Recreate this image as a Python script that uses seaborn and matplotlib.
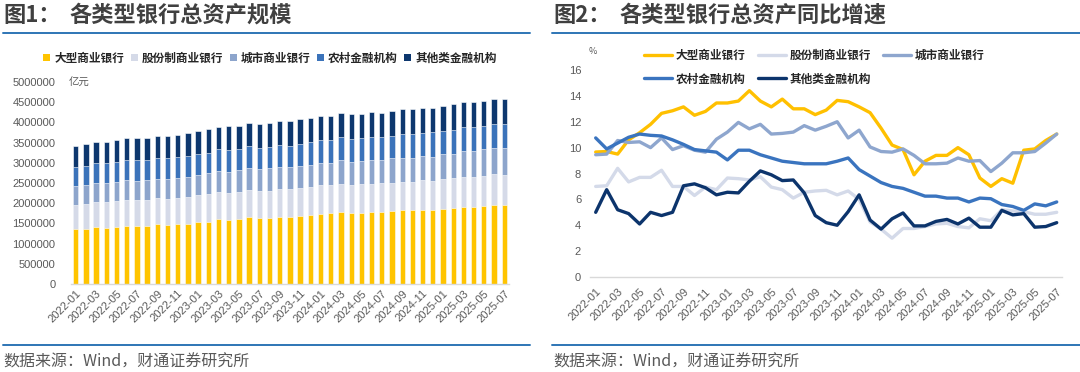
import numpy as np
import pandas as pd
import matplotlib
matplotlib.use("Agg")
import matplotlib.pyplot as plt
import seaborn as sns
from matplotlib.lines import Line2D
from matplotlib.patches import Patch

# ---------------- data ----------------
months = [f"{y}-{m:02d}" for y in (2022, 2023, 2024, 2025) for m in range(1, 13)][:43]

series_names = ["大型商业银行", "股份制商业银行", "城市商业银行", "农村金融机构", "其他类金融机构"]

# total assets (亿元)
assets_large = [1361400, 1369700, 1402700, 1377900, 1419200, 1443900, 1435700, 1443900, 1485200, 1460400,
                1485200, 1493400, 1534700, 1542900, 1608900, 1575900, 1608900, 1658500, 1625400, 1641900,
                1666700, 1658500, 1683200, 1699700, 1732700, 1749200, 1782200, 1749200, 1765700, 1782200,
                1782200, 1798700, 1831700, 1835000, 1840000, 1823500, 1856500, 1873000, 1914200, 1918000,
                1930700, 1963700, 1963700]
assets_joint = [594100, 610600, 627100, 651800, 627100, 643600, 635300, 643600, 643600, 643600,
                643600, 660100, 668300, 676600, 668300, 684800, 668300, 668300, 684800, 668300,
                684800, 684800, 693100, 709600, 709600, 693100, 701300, 701300, 701300, 701300,
                717800, 701300, 701300, 701300, 726100, 734300, 742600, 750800, 742600, 742600,
                742600, 759100, 742600]
assets_city = [470300, 462100, 470300, 470300, 478600, 495100, 486800, 486800, 478600, 495100,
               495100, 503300, 503300, 519800, 519800, 519800, 536300, 536300, 536300, 552800,
               544600, 552800, 552800, 544600, 561100, 561100, 585800, 569300, 577600, 585800,
               569300, 610600, 594100, 594100, 594100, 594100, 610600, 602300, 635300, 635300,
               660100, 643600, 660100]
assets_rural = [470300, 486800, 486800, 486800, 495100, 486800, 511600, 495100, 511600, 528100,
                511600, 511600, 519800, 511600, 536300, 536300, 536300, 552800, 528100, 536300,
                544600, 528100, 544600, 552800, 569300, 569300, 561100, 577600, 569300, 577600,
                561100, 561100, 585800, 585800, 585800, 602300, 585800, 594100, 585800, 585800,
                577600, 594100, 594100]
assets_other = [528100, 528100, 519800, 519800, 536300, 536300, 536300, 552800, 544600, 536300,
                561100, 561100, 561100, 577600, 561100, 585800, 561100, 577600, 585800, 577600,
                585800, 610600, 602300, 594100, 594100, 594100, 594100, 602300, 594100, 610600,
                610600, 602300, 610600, 610600, 602300, 610600, 618800, 627100, 627100, 627100,
                627100, 627100, 627100]

# YoY growth (%)
yoy_large = [9.66, 9.7, 9.5, 10.6, 11.15, 11.8, 12.65, 12.85, 13.15, 12.5, 12.8, 13.45, 13.45, 13.6, 14.4,
             13.6, 13.15, 13.75, 13.0, 13.0, 12.55, 12.9, 13.65, 13.55, 13.15, 12.7, 11.5, 10.2, 9.85, 7.9,
             8.95, 9.4, 9.4, 10.0, 9.45, 7.65, 7.0, 7.6, 7.25, 9.8, 9.9, 10.55, 11.05]
yoy_joint = [7.0, 7.05, 8.4, 7.35, 7.7, 7.7, 8.25, 7.0, 7.0, 6.3, 6.95, 6.75, 7.65, 7.6, 7.5,
             7.75, 6.95, 6.75, 6.1, 6.55, 6.65, 6.7, 6.35, 6.65, 6.0, 4.25, 3.7, 3.0, 3.75, 3.75,
             3.9, 4.1, 4.15, 3.9, 3.8, 4.5, 4.35, 5.2, 5.1, 5.05, 4.85, 4.85, 5.0]
yoy_city = [9.45, 9.5, 10.55, 10.4, 10.45, 10.0, 10.75, 9.85, 10.15, 9.8, 9.65, 10.65, 11.2, 11.95, 11.45,
            11.8, 11.05, 11.1, 11.2, 11.7, 11.35, 11.65, 12.0, 10.75, 11.35, 10.05, 9.7, 9.65, 9.9, 9.4,
            8.75, 8.75, 8.8, 9.2, 8.95, 9.0, 8.15, 8.8, 9.6, 9.6, 9.7, 10.35, 11.05]
yoy_rural = [10.75, 9.9, 10.35, 10.8, 11.05, 10.95, 10.9, 10.6, 10.25, 9.85, 9.75, 9.65, 9.05, 9.8, 9.8,
             9.45, 9.2, 8.95, 8.85, 8.75, 8.75, 8.75, 8.95, 9.2, 8.3, 7.8, 7.3, 7.0, 6.85, 6.55,
             6.25, 6.25, 6.1, 6.1, 5.8, 6.1, 6.05, 5.6, 5.45, 5.15, 5.65, 5.5, 5.8]
yoy_other = [5.0, 6.75, 5.2, 4.9, 4.1, 5.0, 4.75, 5.0, 7.05, 7.2, 6.9, 6.35, 6.55, 6.5, 7.4,
             8.2, 7.9, 7.45, 7.5, 6.5, 4.75, 4.2, 4.0, 5.05, 6.35, 4.4, 3.7, 4.5, 4.95, 3.95,
             3.95, 4.3, 4.45, 4.1, 4.55, 3.85, 3.85, 5.15, 4.8, 4.9, 3.85, 3.9, 4.2]

bar_colors = ["#FFC400", "#D5DAE8", "#8DA5CC", "#3B73BA", "#0D376E"]
line_colors = ["#FFC000", "#D4DAE9", "#8EA6CE", "#3A74BF", "#0C346C"]

# ---------------- style ----------------
sns.set_theme(style="white")
plt.rcParams["font.family"] = ["Noto Sans CJK SC", "DejaVu Sans"]

W, H = 1080, 372
fig = plt.figure(figsize=(W / 100, H / 100), dpi=100)


def fx(x):
    return x / W


def fy(y):
    return 1 - y / H


tick_color = "#595959"
tick_font = dict(family=["Liberation Sans", "DejaVu Sans"], size=8, color=tick_color)

# ---------------- left: stacked bars ----------------
ax1 = fig.add_axes([fx(70.6), fy(284), fx(438.7), 202 / H])
layers = [assets_large, assets_joint, assets_city, assets_rural, assets_other]
cum = np.cumsum(np.array(layers, dtype=float), axis=0)
df_bar = pd.DataFrame({"month": months})
for k in range(4, -1, -1):
    df_bar["v"] = cum[k]
    sns.barplot(data=df_bar, x="month", y="v", color=bar_colors[k], saturation=1, width=0.52,
                edgecolor="white", linewidth=0.4, errorbar=None, ax=ax1)
ax1.set_xlim(-0.5, 42.5)
ax1.set_ylim(0, 5000000)
ax1.set_yticks(np.arange(0, 5000001, 500000))
ax1.set_yticklabels([f"{int(v)}" for v in np.arange(0, 5000001, 500000)], **tick_font)
ax1.set_xticks(range(0, 43, 2))
ax1.set_xticklabels(months[::2], rotation=45, ha="right", rotation_mode="anchor", **tick_font)
ax1.tick_params(axis="both", length=0)
ax1.tick_params(axis="y", pad=11)
ax1.tick_params(axis="x", pad=3)
ax1.set_xlabel("")
ax1.set_ylabel("")
for s in ["left", "right", "top"]:
    ax1.spines[s].set_visible(False)
ax1.spines["bottom"].set_color("#D9D9D9")
ax1.spines["bottom"].set_linewidth(1)
ax1.grid(False)
fig.text(fx(69), fy(83), "亿元", fontsize=7.5, color="#595959", va="center", ha="left", style="italic")

handles1 = [Patch(facecolor=c, edgecolor="none") for c in bar_colors]
fig.legend(handles1, series_names, loc="center", bbox_to_anchor=(fx(270), fy(58)), ncol=5, frameon=False,
           handlelength=0.6, handleheight=0.6, handletextpad=0.35, columnspacing=0.55,
           prop=dict(family=["Noto Sans CJK SC"], size=8.4, weight="bold"), labelcolor="#262626")

# ---------------- right: lines ----------------
ax2 = fig.add_axes([fx(590.2), fy(277), fx(472), 207 / H])
yoy = [yoy_large, yoy_joint, yoy_city, yoy_rural, yoy_other]
df_line = pd.DataFrame({
    "idx": np.tile(np.arange(43), 5),
    "val": np.concatenate([np.array(v) for v in yoy]),
    "series": np.repeat(series_names, 43),
})
sns.lineplot(data=df_line, x="idx", y="val", hue="series", hue_order=series_names,
             palette=line_colors, linewidth=2.4, legend=False, ax=ax2)
ax2.set_xlim(-0.5, 42.5)
ax2.set_ylim(0, 16)
ax2.set_yticks(range(0, 17, 2))
ax2.set_yticklabels([str(v) for v in range(0, 17, 2)], **tick_font)
ax2.set_xticks(range(0, 43, 2))
ax2.set_xticklabels(months[::2], rotation=45, ha="right", rotation_mode="anchor", **tick_font)
ax2.tick_params(axis="both", length=0)
ax2.tick_params(axis="y", pad=6.5)
ax2.tick_params(axis="x", pad=7)
ax2.set_xlabel("")
ax2.set_ylabel("")
for s in ["left", "right", "top"]:
    ax2.spines[s].set_visible(False)
ax2.spines["bottom"].set_color("#D9D9D9")
ax2.spines["bottom"].set_linewidth(1)
ax2.grid(False)
fig.text(fx(593), fy(52), "%", fontsize=6.5, color="#595959", ha="center", va="center")

handles2 = [Line2D([0], [0], color=c, lw=2.4) for c in line_colors]
order = [0, 3, 1, 4, 2]
fig.legend([handles2[i] for i in order], [series_names[i] for i in order], loc="upper left",
           bbox_to_anchor=(fx(644), fy(49)), ncol=3, frameon=False, borderpad=0, borderaxespad=0,
           handlelength=2.4, handletextpad=0.35, columnspacing=1.0, labelspacing=0.9,
           prop=dict(family=["Noto Sans CJK SC"], size=8.4, weight="bold"), labelcolor="#262626")

# ---------------- titles, rules, sources ----------------
title_kw = dict(fontsize=16, weight="bold", color="#404040", va="center", ha="left")
fig.text(fx(3), fy(15), "图1：", **title_kw)
fig.text(fx(69), fy(15), "各类型银行总资产规模", **title_kw)
fig.text(fx(553), fy(15), "图2：", **title_kw)
fig.text(fx(619), fy(15), "各类型银行总资产同比增速", **title_kw)

rule_color = "#2E75B6"
for x0, x1 in [(3, 530), (552, 1080)]:
    fig.add_artist(Line2D([fx(x0), fx(x1)], [fy(33), fy(33)], color=rule_color, lw=1.4))
    fig.add_artist(Line2D([fx(x0), fx(x1)], [fy(345), fy(345)], color=rule_color, lw=1.4))

src_kw = dict(fontsize=11.5, color="#595959", va="center", ha="left")
fig.text(fx(3), fy(362), "数据来源：Wind，财通证券研究所", **src_kw)
fig.text(fx(553), fy(362), "数据来源：Wind，财通证券研究所", **src_kw)

fig.savefig("out.png", dpi=100)
